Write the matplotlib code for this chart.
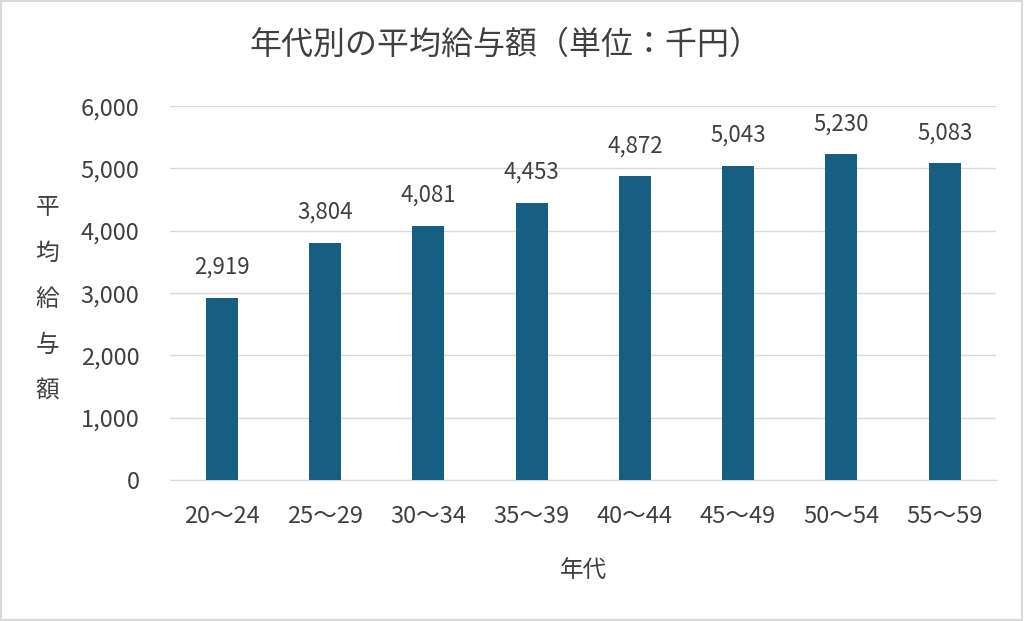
import matplotlib.pyplot as plt
from matplotlib.patches import Rectangle

plt.rcParams['font.family'] = ['Noto Sans CJK JP', 'DejaVu Sans']

categories = ['20〜24', '25〜29', '30〜34', '35〜39', '40〜44', '45〜49', '50〜54', '55〜59']
salary = [2919, 3804, 4081, 4453, 4872, 5043, 5230, 5083]
y_ticks = [0, 1000, 2000, 3000, 4000, 5000, 6000]

text_color = '#404040'
bar_color = '#165f82'

fig = plt.figure(figsize=(10.24, 6.21), dpi=100)
ax = fig.add_axes([0.166, 0.227, 0.807, 0.602])

x = list(range(len(categories)))
ax.bar(x, salary, width=0.31, color=bar_color, zorder=3)
for xi, v in zip(x, salary):
    ax.annotate(f'{v:,}', (xi, v), xytext=(0, 22), textcoords='offset points',
                ha='center', va='center', fontsize=16, color=text_color)

ax.set_xlim(-0.5, len(categories) - 0.5)
ax.set_ylim(0, 6000)
ax.set_yticks(y_ticks)
ax.set_yticklabels([f'{t:,}' for t in y_ticks])
ax.set_xticks(x)
ax.set_xticklabels(categories)
ax.tick_params(axis='both', length=0, labelsize=17, labelcolor=text_color)
ax.tick_params(axis='y', pad=22)
ax.tick_params(axis='x', pad=18)
ax.grid(axis='y', color='#d9d9d9', linewidth=1, zorder=0)
for s in ['top', 'right', 'left']:
    ax.spines[s].set_visible(False)
ax.spines['bottom'].set_color('#d9d9d9')

ax.set_xlabel('年代', fontsize=17, color=text_color, labelpad=22)
fig.text(0.046, 0.518, '平\n均\n給\n与\n額', ha='center', va='center', fontsize=17,
         color=text_color, linespacing=2.27)
fig.suptitle('年代別の平均給与額（単位：千円）', x=0.494, y=0.927, va='center',
             fontsize=23, color=text_color)

fig.patches.append(Rectangle((0.001, 0.002), 0.997, 0.996, transform=fig.transFigure,
                             fill=False, edgecolor='#d9d9d9', linewidth=1.5))

fig.savefig('out.png', dpi=100)
